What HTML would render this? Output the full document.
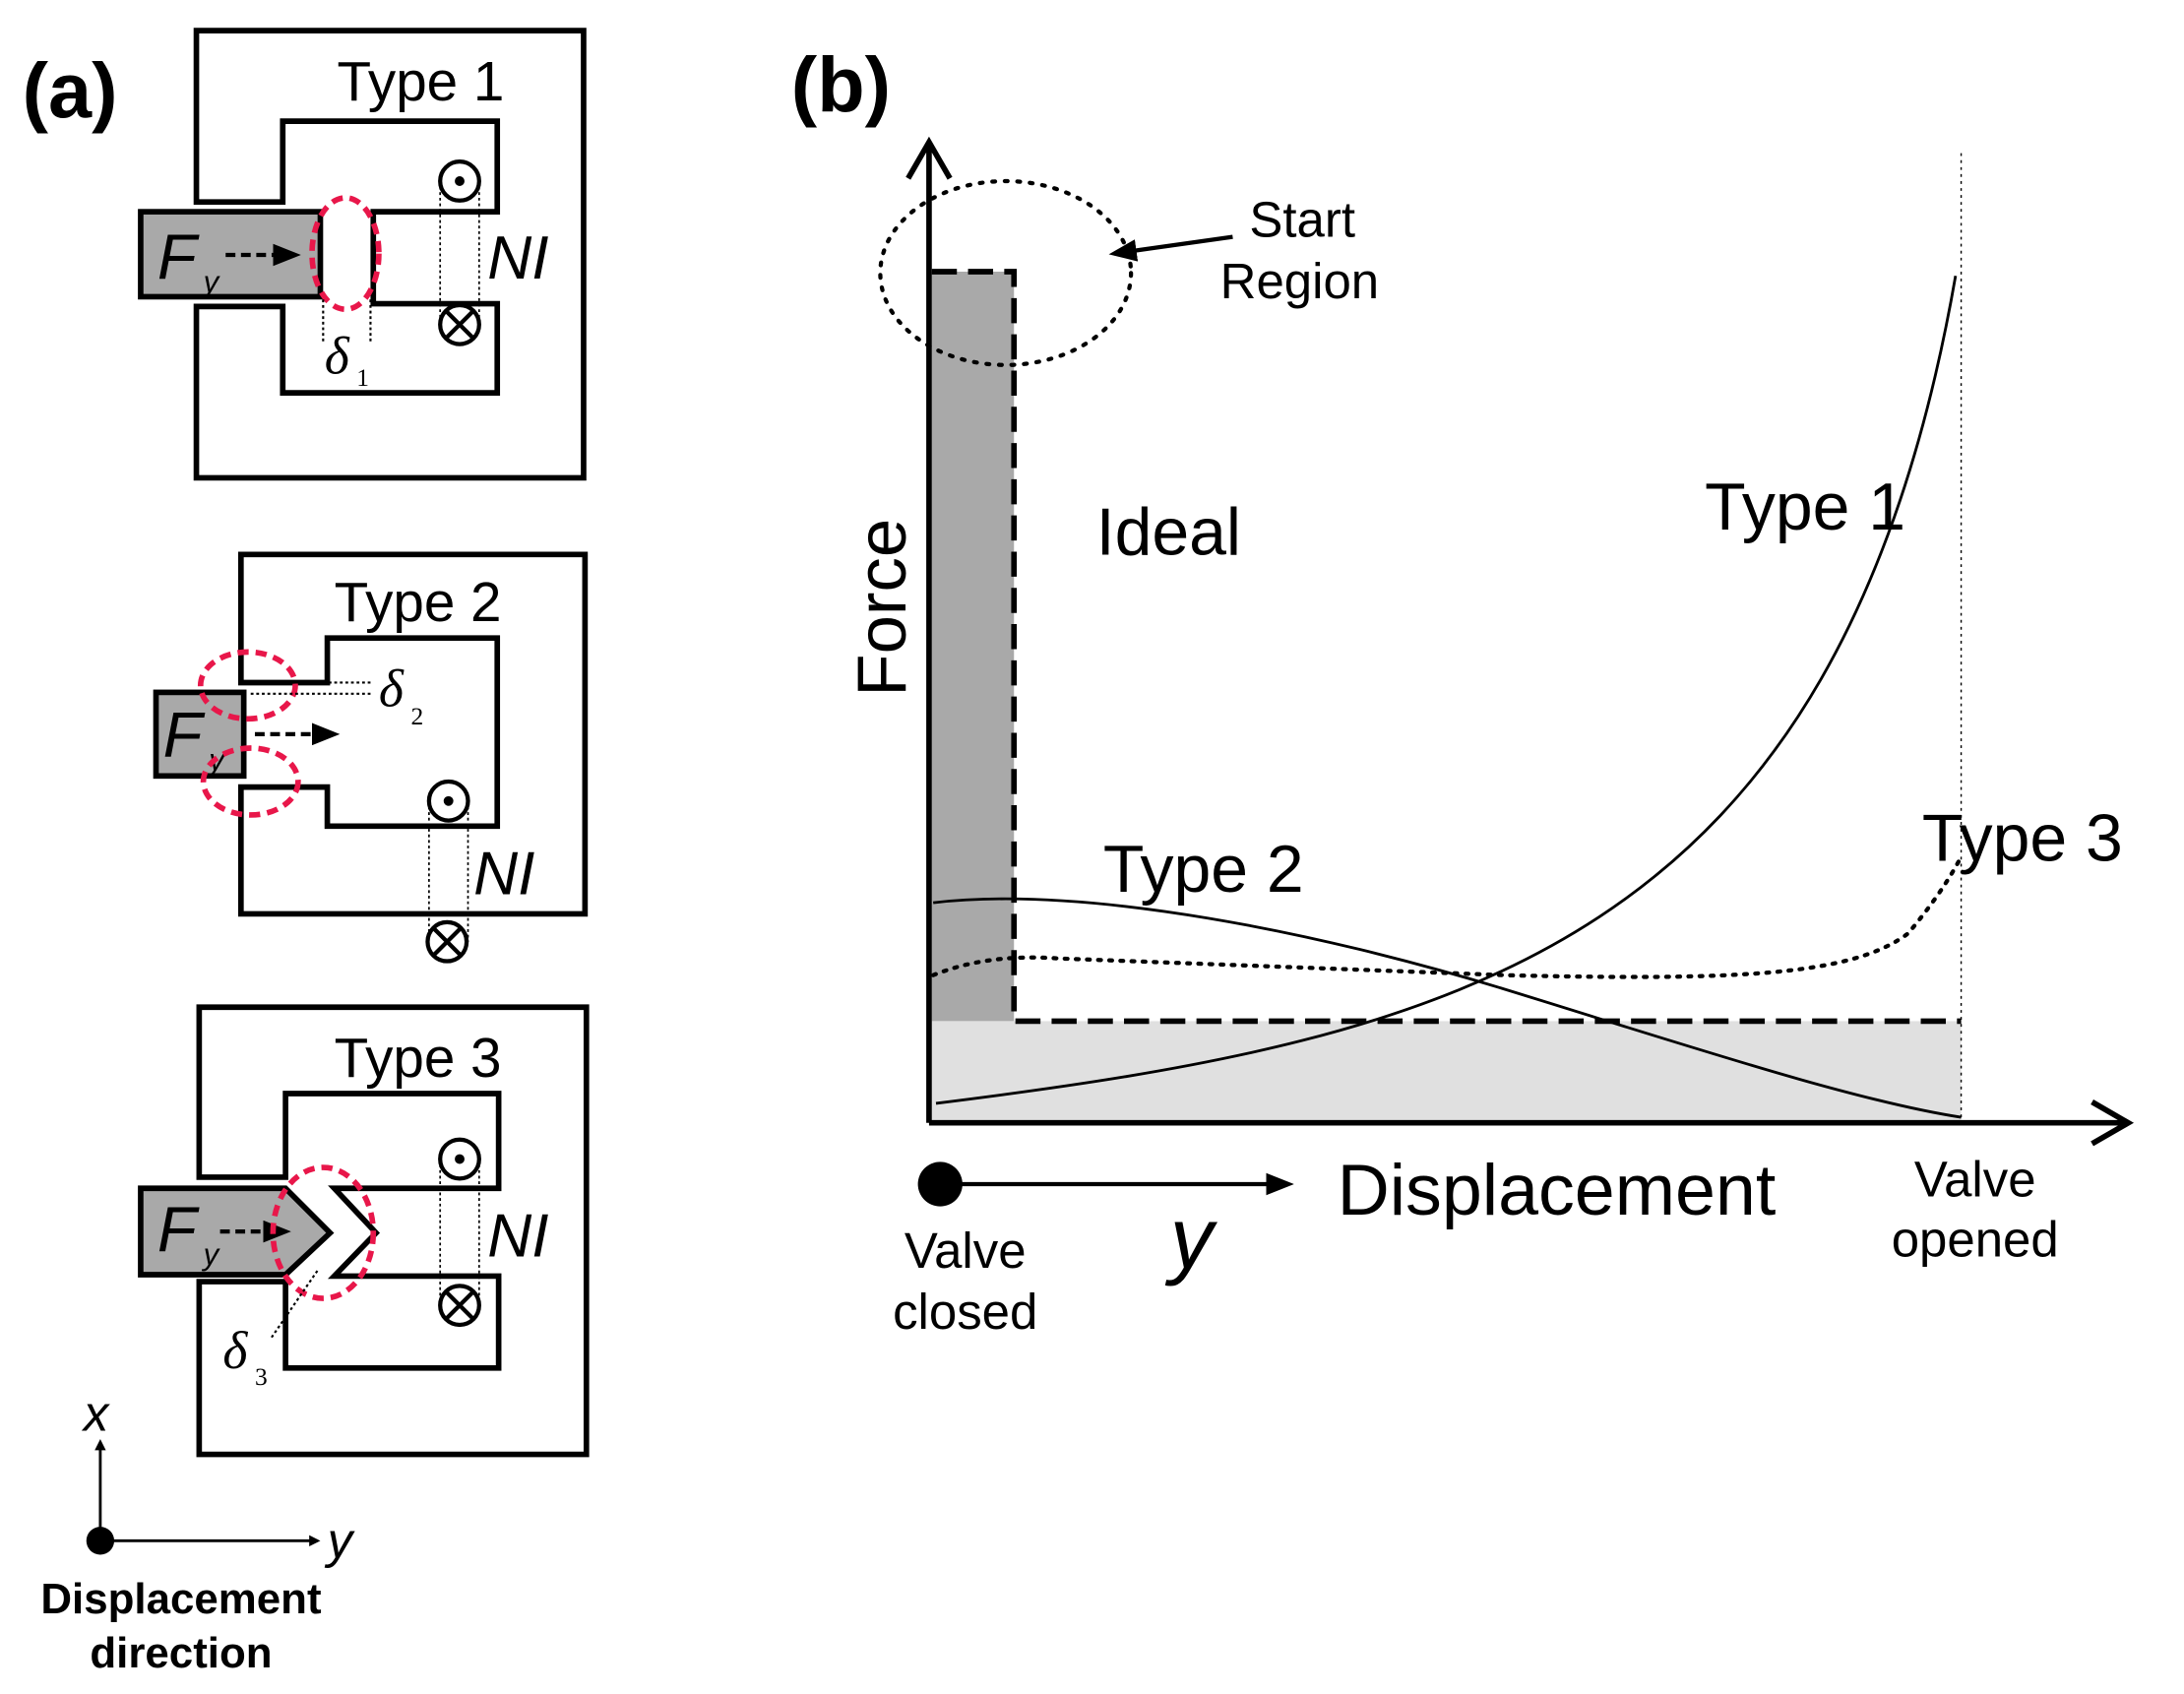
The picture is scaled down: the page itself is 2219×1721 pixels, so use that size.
<!DOCTYPE html>
<html><head><meta charset="utf-8"><style>html,body{margin:0;padding:0;background:#fff}svg{display:block}</style></head><body>
<svg width="2219" height="1721" viewBox="0 0 1568 1216" preserveAspectRatio="none" xmlns="http://www.w3.org/2000/svg" font-family="Liberation Sans, sans-serif">
<defs>
<marker id="ah" markerWidth="8" markerHeight="8" refX="6" refY="4" orient="auto" markerUnits="userSpaceOnUse"><path d="M0,0 L8,4 L0,8 Z" fill="#000"/></marker>
<marker id="ah2" markerWidth="20" markerHeight="16" refX="16" refY="8" orient="auto" markerUnits="userSpaceOnUse"><path d="M0,0 L20,8 L0,16 Z" fill="#000"/></marker>
</defs>
<rect width="1568" height="1216" fill="#fff"/>
<text x="16" y="84" font-size="56" font-weight="bold">(a)</text>
<text x="568" y="80" font-size="56" font-weight="bold">(b)</text>

<!-- Type 1 -->
<path d="M141,145 L141,22 L419,22 L419,343 L141,343 L141,220 L203,220 L203,282 L357,282 L357,218 L268,218 L268,152 L357,152 L357,87 L203,87 L203,145 Z" fill="none" stroke="#000" stroke-width="4"/>
<rect x="101" y="152" width="129" height="61" fill="#a9a9a9" stroke="#000" stroke-width="4"/>
<text x="113" y="200" font-size="46" font-style="italic">F</text><text x="146" y="210" font-size="22" font-style="italic">y</text>
<line x1="162" y1="183" x2="212" y2="183" stroke="#000" stroke-width="3" stroke-dasharray="7,4" marker-end="url(#ah2)"/>
<ellipse cx="248" cy="182" rx="24" ry="40" fill="none" stroke="#e8174a" stroke-width="4" stroke-dasharray="8,5"/>
<line x1="232" y1="215" x2="232" y2="245" stroke="#000" stroke-width="1.5" stroke-dasharray="2,2"/>
<line x1="266" y1="215" x2="266" y2="245" stroke="#000" stroke-width="1.5" stroke-dasharray="2,2"/>
<text x="233" y="268" font-size="38" font-style="italic" font-family="Liberation Serif, serif">δ</text><text x="256" y="277" font-size="18" font-family="Liberation Serif, serif">1</text>
<line x1="316" y1="130" x2="316" y2="233" stroke="#000" stroke-width="1.2" stroke-dasharray="2,2"/>
<line x1="344" y1="130" x2="344" y2="233" stroke="#000" stroke-width="1.2" stroke-dasharray="2,2"/>
<circle cx="330" cy="130" r="14" fill="#fff" stroke="#000" stroke-width="3"/><circle cx="330" cy="130" r="3.5"/>
<circle cx="330" cy="233" r="14" fill="#fff" stroke="#000" stroke-width="3"/><path d="M320,223 L340,243 M340,223 L320,243" stroke="#000" stroke-width="3"/>
<text x="350" y="200" font-size="44" font-style="italic">NI</text>
<text x="242" y="72" font-size="40">Type 1</text>

<!-- Type 2 -->
<path d="M173,490 L173,398 L420,398 L420,656 L173,656 L173,565 L235,565 L235,593 L357,593 L357,458 L235,458 L235,490 Z" fill="none" stroke="#000" stroke-width="4"/>
<rect x="112" y="497" width="63" height="60" fill="#a9a9a9" stroke="#000" stroke-width="4"/>
<text x="117" y="543" font-size="46" font-style="italic">F</text><text x="150" y="553" font-size="22" font-style="italic">y</text>
<line x1="183" y1="527" x2="240" y2="527" stroke="#000" stroke-width="3" stroke-dasharray="7,4" marker-end="url(#ah2)"/>
<ellipse cx="178" cy="492" rx="34" ry="24" fill="none" stroke="#e8174a" stroke-width="4" stroke-dasharray="8,5"/>
<ellipse cx="180" cy="561" rx="34" ry="24" fill="none" stroke="#e8174a" stroke-width="4" stroke-dasharray="8,5"/>
<line x1="180" y1="490" x2="268" y2="490" stroke="#000" stroke-width="1.5" stroke-dasharray="2,2"/>
<line x1="180" y1="498" x2="268" y2="498" stroke="#000" stroke-width="1.5" stroke-dasharray="2,2"/>
<text x="272" y="507" font-size="38" font-style="italic" font-family="Liberation Serif, serif">δ</text><text x="295" y="520" font-size="18" font-family="Liberation Serif, serif">2</text>
<line x1="308" y1="575" x2="308" y2="676" stroke="#000" stroke-width="1.2" stroke-dasharray="2,2"/>
<line x1="336" y1="575" x2="336" y2="676" stroke="#000" stroke-width="1.2" stroke-dasharray="2,2"/>
<circle cx="322" cy="575" r="14" fill="#fff" stroke="#000" stroke-width="3"/><circle cx="322" cy="575" r="3.5"/>
<circle cx="321" cy="676" r="14" fill="#fff" stroke="#000" stroke-width="3"/><path d="M311,666 L331,686 M331,666 L311,686" stroke="#000" stroke-width="3"/>
<text x="340" y="642" font-size="44" font-style="italic">NI</text>
<text x="240" y="446" font-size="40">Type 2</text>

<!-- Type 3 -->
<path d="M143,845 L143,723 L421,723 L421,1044 L143,1044 L143,920 L205,920 L205,982 L358,982 L358,916 L240,916 L270,885 L240,853 L358,853 L358,785 L205,785 L205,845 Z" fill="none" stroke="#000" stroke-width="4"/>
<path d="M101,853 L205,853 L237,885 L205,915 L101,915 Z" fill="#a9a9a9" stroke="#000" stroke-width="4"/>
<text x="113" y="898" font-size="46" font-style="italic">F</text><text x="146" y="908" font-size="22" font-style="italic">y</text>
<line x1="158" y1="884" x2="205" y2="884" stroke="#000" stroke-width="3" stroke-dasharray="7,4" marker-end="url(#ah2)"/>
<ellipse cx="232" cy="885" rx="36" ry="47" fill="none" stroke="#e8174a" stroke-width="4" stroke-dasharray="8,5"/>
<line x1="195" y1="960" x2="228" y2="912" stroke="#000" stroke-width="1.5" stroke-dasharray="2,2"/>
<text x="160" y="982" font-size="38" font-style="italic" font-family="Liberation Serif, serif">δ</text><text x="183" y="994" font-size="18" font-family="Liberation Serif, serif">3</text>
<line x1="316" y1="832" x2="316" y2="937" stroke="#000" stroke-width="1.2" stroke-dasharray="2,2"/>
<line x1="344" y1="832" x2="344" y2="937" stroke="#000" stroke-width="1.2" stroke-dasharray="2,2"/>
<circle cx="330" cy="832" r="14" fill="#fff" stroke="#000" stroke-width="3"/><circle cx="330" cy="832" r="3.5"/>
<circle cx="330" cy="937" r="14" fill="#fff" stroke="#000" stroke-width="3"/><path d="M320,927 L340,947 M340,927 L320,947" stroke="#000" stroke-width="3"/>
<text x="350" y="902" font-size="44" font-style="italic">NI</text>
<text x="240" y="773" font-size="40">Type 3</text>

<!-- direction -->
<line x1="72" y1="1106" x2="72" y2="1035" stroke="#000" stroke-width="2" marker-end="url(#ah)"/>
<line x1="72" y1="1106" x2="228" y2="1106" stroke="#000" stroke-width="2" marker-end="url(#ah)"/>
<circle cx="72" cy="1106" r="10"/>
<text x="60" y="1027" font-size="36" font-style="italic">x</text>
<text x="235" y="1118" font-size="36" font-style="italic">y</text>
<text x="130" y="1158" font-size="31" font-weight="bold" text-anchor="middle">Displacement</text>
<text x="130" y="1197" font-size="31" font-weight="bold" text-anchor="middle">direction</text>

<!-- panel b -->
<rect x="669" y="195" width="59" height="538" fill="#a9a9a9"/>
<rect x="669" y="733" width="739" height="73" fill="#e0e0e0"/>
<line x1="1408" y1="110" x2="1408" y2="806" stroke="#000" stroke-width="1" stroke-dasharray="2,3"/>
<path d="M667,806 L667,102 M652,128 L667,102 L682,128" fill="none" stroke="#000" stroke-width="4"/>
<path d="M667,806 L1528,806 M1502,791 L1528,806 L1502,821" fill="none" stroke="#000" stroke-width="4"/>
<path d="M669,195 L728,195 L728,733 L1408,733" fill="none" stroke="#000" stroke-width="4" stroke-dasharray="18,8"/>
<ellipse cx="722" cy="196" rx="90" ry="66" fill="none" stroke="#000" stroke-width="3" stroke-dasharray="2,7" stroke-linecap="round"/>
<line x1="885" y1="170" x2="800" y2="182" stroke="#000" stroke-width="3" marker-end="url(#ah2)"/>
<text x="897" y="170" font-size="36">Start</text>
<text x="876" y="214" font-size="36">Region</text>
<text transform="translate(650,500) rotate(-90)" font-size="50">Force</text>
<text x="787" y="398" font-size="48">Ideal</text>
<text x="1224" y="380" font-size="48">Type 1</text>
<text x="792" y="640" font-size="48">Type 2</text>
<text x="1380" y="618" font-size="48">Type 3</text>
<path d="M672,792 C1050,745 1320,680 1404,198" fill="none" stroke="#000" stroke-width="2"/>
<path d="M670,648 C780,635 950,670 1080,710 S1330,790 1408,802" fill="none" stroke="#000" stroke-width="2"/>
<path d="M670,700 C700,688 730,686 760,688 L1080,700 C1250,704 1330,700 1370,670 Q1395,640 1408,615" fill="none" stroke="#000" stroke-width="3" stroke-dasharray="2,6" stroke-linecap="round"/>
<circle cx="675" cy="850" r="16"/>
<line x1="690" y1="850" x2="925" y2="850" stroke="#000" stroke-width="3" marker-end="url(#ah2)"/>
<text x="840" y="910" font-size="62" font-style="italic">y</text>
<text x="960" y="872" font-size="52">Displacement</text>
<text x="693" y="910" font-size="36" text-anchor="middle">Valve</text>
<text x="693" y="954" font-size="36" text-anchor="middle">closed</text>
<text x="1418" y="859" font-size="36" text-anchor="middle">Valve</text>
<text x="1418" y="902" font-size="36" text-anchor="middle">opened</text>
</svg>
</body></html>
